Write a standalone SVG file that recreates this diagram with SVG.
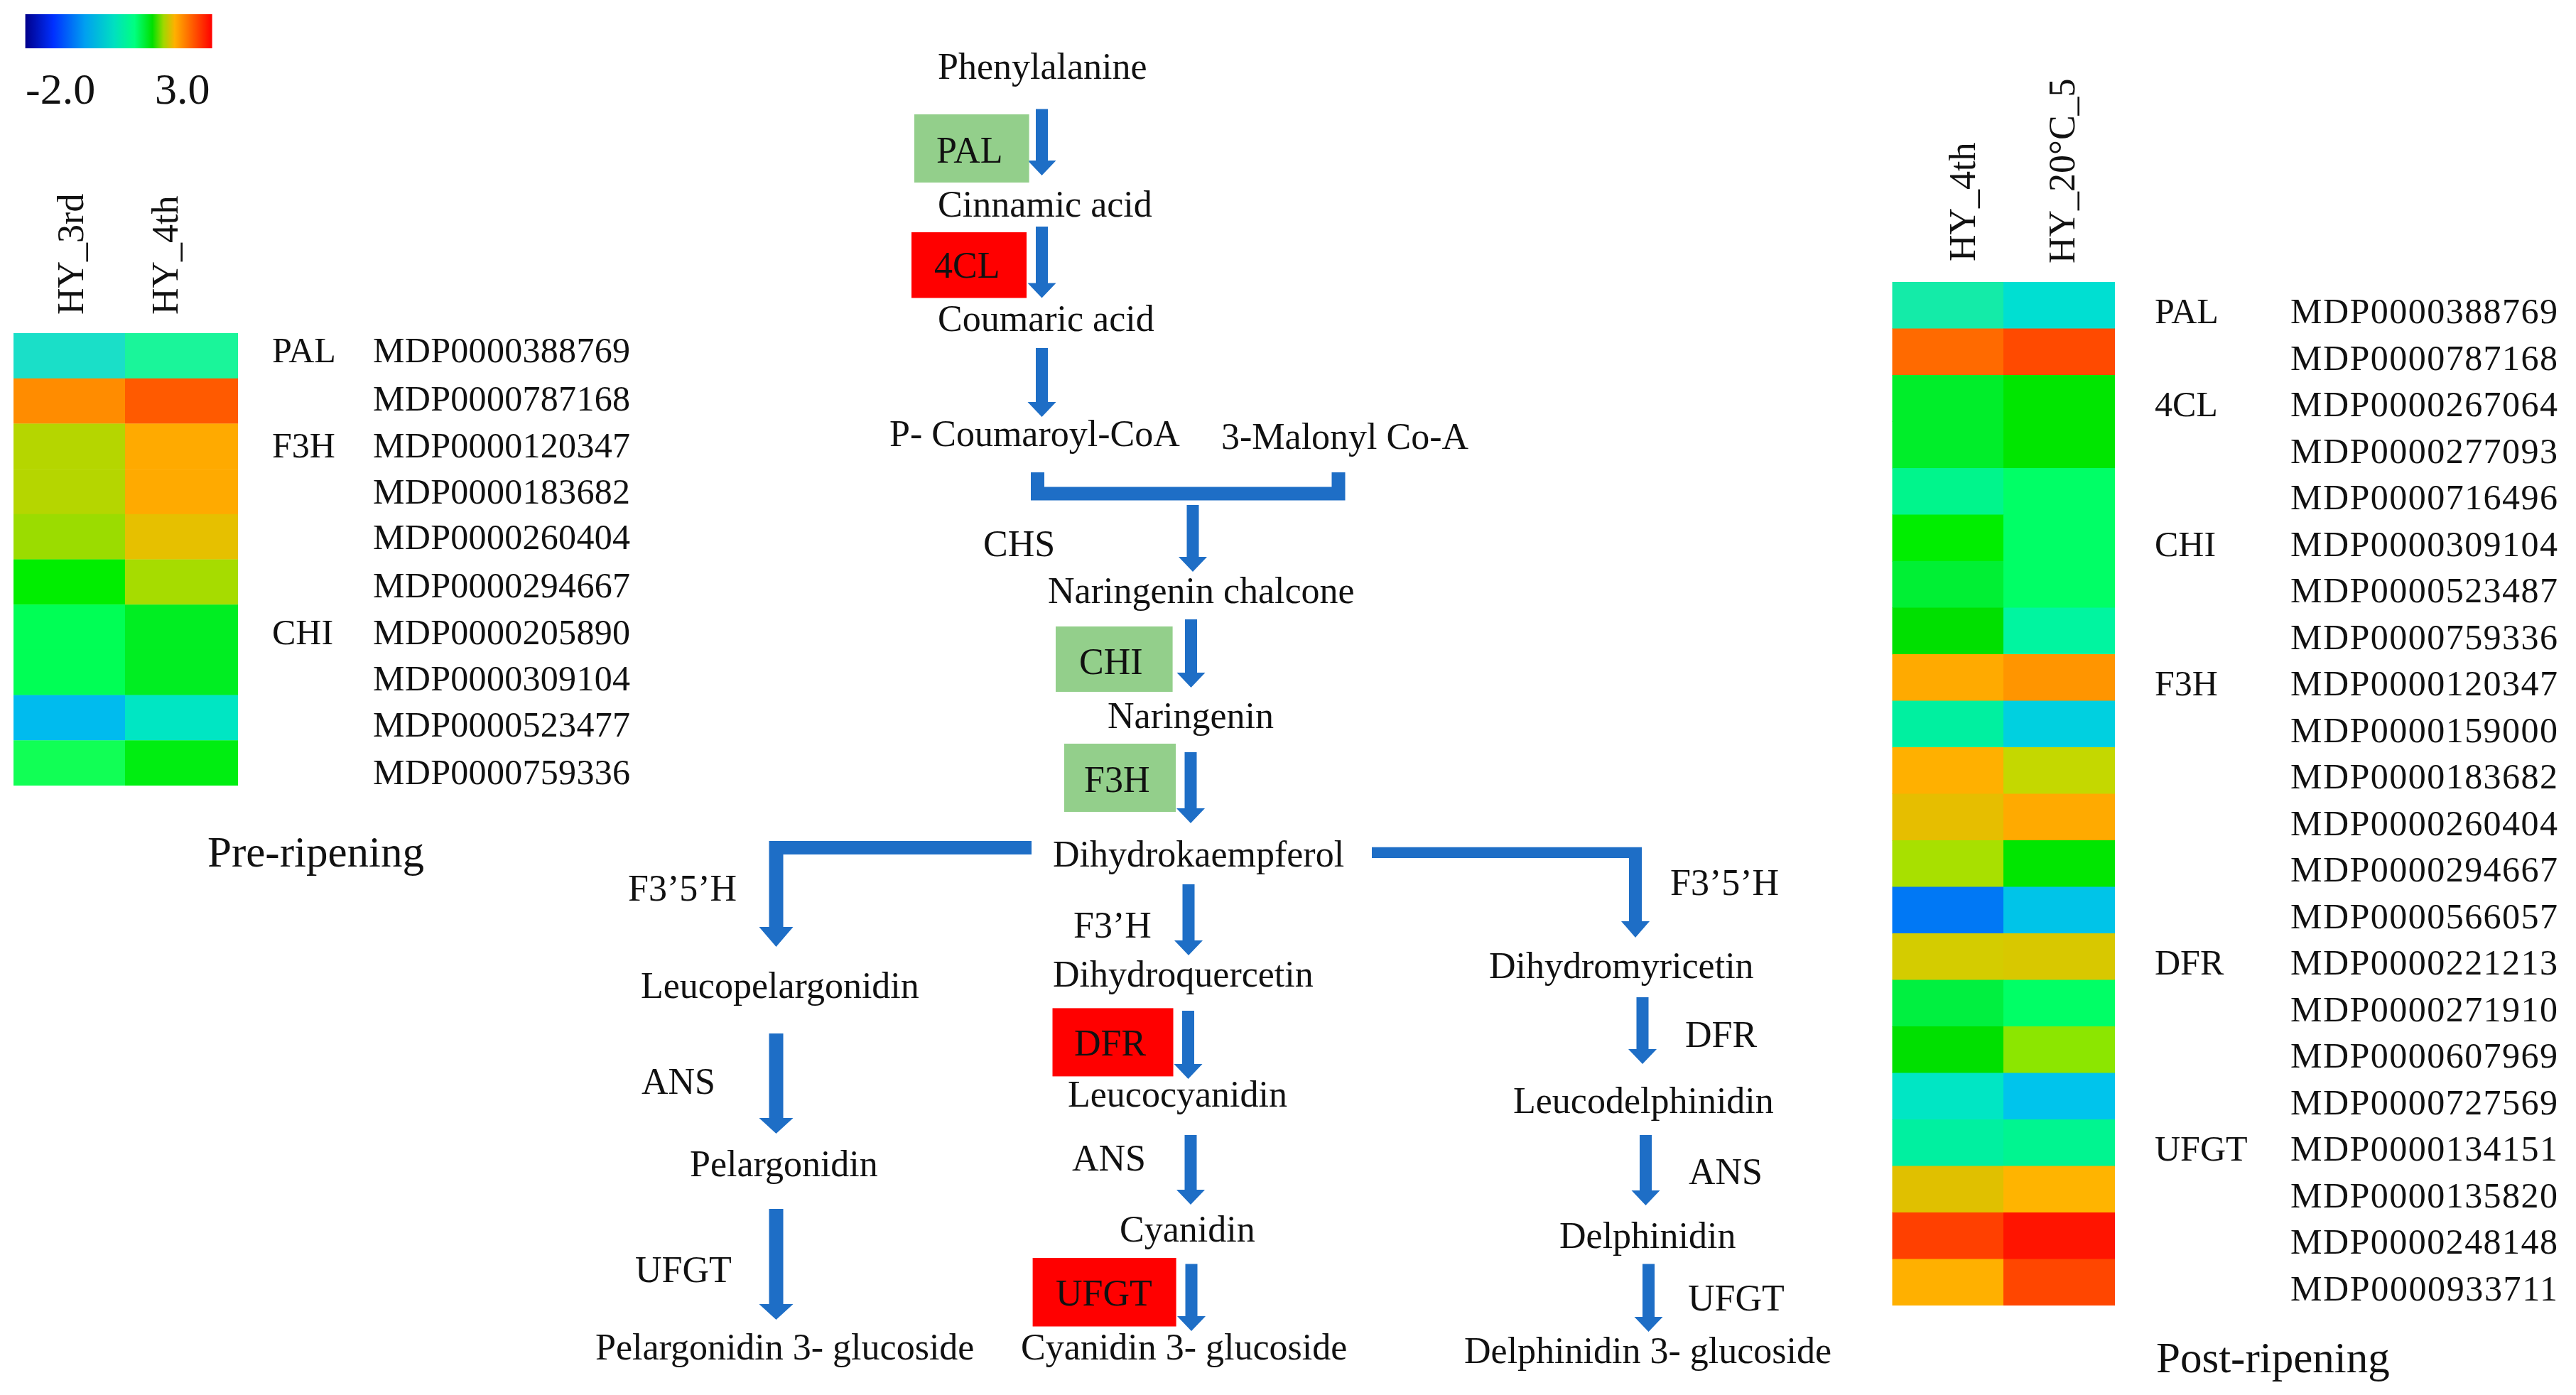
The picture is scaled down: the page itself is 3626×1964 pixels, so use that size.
<svg xmlns="http://www.w3.org/2000/svg" width="3626" height="1964" viewBox="0 0 3626 1964">
<style>
text{font-family:"Liberation Serif","Times New Roman",serif;fill:#111;}
.p{font-size:52px;}
.g{font-size:50px;}
.m{font-size:50px;}
.t{font-size:61px;}
.h{font-size:52px;}
.arr{fill:#1E6EC6;}
.line{fill:none;stroke:#1E6EC6;stroke-width:19;}
.green{fill:#93CF8B;}
.red{fill:#FF0000;}
</style>
<defs>
<linearGradient id="cbar" x1="0" y1="0" x2="1" y2="0">
<stop offset="0" stop-color="#00008B"/>
<stop offset="0.15" stop-color="#0030FF"/>
<stop offset="0.32" stop-color="#00A0F0"/>
<stop offset="0.475" stop-color="#00E0C0"/>
<stop offset="0.585" stop-color="#00FF80"/>
<stop offset="0.68" stop-color="#00E000"/>
<stop offset="0.74" stop-color="#A0D800"/>
<stop offset="0.8" stop-color="#FFB000"/>
<stop offset="0.89" stop-color="#FF6000"/>
<stop offset="1" stop-color="#FF0000"/>
</linearGradient>
</defs>
<rect width="3626" height="1964" fill="#FFFFFF"/>

<g id="legend">
<rect x="35.6" y="20" width="263" height="48" fill="url(#cbar)"/>
<text x="36" y="146" style="font-size:62px">-2.0</text>
<text x="218" y="146" style="font-size:62px">3.0</text>
</g>

<g id="heatmap-pre">
<text class="h" transform="translate(117,443) rotate(-90)">HY_3rd</text>
<text class="h" transform="translate(250,443) rotate(-90)">HY_4th</text>
<g id="pre-cells">
<rect x="19" y="469" width="157" height="64" fill="#1ADFC8"/><rect x="176" y="469" width="159" height="64" fill="#1AF59A"/>
<rect x="19" y="532.7" width="157" height="64" fill="#FF8C00"/><rect x="176" y="532.7" width="159" height="64" fill="#FF5A00"/>
<rect x="19" y="596.4" width="157" height="64" fill="#B5D600"/><rect x="176" y="596.4" width="159" height="64" fill="#FFAA00"/>
<rect x="19" y="660.1" width="157" height="64" fill="#B5D600"/><rect x="176" y="660.1" width="159" height="64" fill="#FFAA00"/>
<rect x="19" y="723.8" width="157" height="64" fill="#9BDC00"/><rect x="176" y="723.8" width="159" height="64" fill="#E6C000"/>
<rect x="19" y="787.5" width="157" height="64" fill="#00EE00"/><rect x="176" y="787.5" width="159" height="64" fill="#A6DC00"/>
<rect x="19" y="851.2" width="157" height="64" fill="#00FF55"/><rect x="176" y="851.2" width="159" height="64" fill="#00EE22"/>
<rect x="19" y="914.9" width="157" height="64" fill="#00FF55"/><rect x="176" y="914.9" width="159" height="64" fill="#00EE22"/>
<rect x="19" y="978.6" width="157" height="64" fill="#00BBEE"/><rect x="176" y="978.6" width="159" height="64" fill="#00E6C3"/>
<rect x="19" y="1042.3" width="157" height="63.7" fill="#11FF55"/><rect x="176" y="1042.3" width="159" height="63.7" fill="#00EE11"/>
</g>
<g id="pre-labels">
<text class="g" x="383" y="510">PAL</text>
<text class="g" x="383" y="644">F3H</text>
<text class="g" x="383" y="907">CHI</text>
<text class="m" x="525" y="510" textLength="362">MDP0000388769</text>
<text class="m" x="525" y="578" textLength="362">MDP0000787168</text>
<text class="m" x="525" y="644" textLength="362">MDP0000120347</text>
<text class="m" x="525" y="709" textLength="362">MDP0000183682</text>
<text class="m" x="525" y="773" textLength="362">MDP0000260404</text>
<text class="m" x="525" y="841" textLength="362">MDP0000294667</text>
<text class="m" x="525" y="907" textLength="362">MDP0000205890</text>
<text class="m" x="525" y="972" textLength="362">MDP0000309104</text>
<text class="m" x="525" y="1037" textLength="362">MDP0000523477</text>
<text class="m" x="525" y="1104" textLength="362">MDP0000759336</text>
</g>
<text class="t" x="292" y="1220">Pre-ripening</text>
</g>

<g id="heatmap-post">
<text class="h" transform="translate(2780,368) rotate(-90)">HY_4th</text>
<text class="h" transform="translate(2920,371) rotate(-90)">HY_20°C_5</text>
<g id="post-cells">
<rect x="2663.5" y="397" width="157" height="66" fill="#14EBA8"/><rect x="2820" y="397" width="157" height="66" fill="#00DFD2"/>
<rect x="2663.5" y="462.5" width="157" height="66" fill="#FF6A00"/><rect x="2820" y="462.5" width="157" height="66" fill="#FF4A00"/>
<rect x="2663.5" y="528" width="157" height="66" fill="#00EE2A"/><rect x="2820" y="528" width="157" height="66" fill="#00E600"/>
<rect x="2663.5" y="593.5" width="157" height="66" fill="#00EE2A"/><rect x="2820" y="593.5" width="157" height="66" fill="#00E600"/>
<rect x="2663.5" y="659" width="157" height="66" fill="#00F58C"/><rect x="2820" y="659" width="157" height="66" fill="#00FF66"/>
<rect x="2663.5" y="724.5" width="157" height="66" fill="#00EE00"/><rect x="2820" y="724.5" width="157" height="66" fill="#00FF66"/>
<rect x="2663.5" y="790" width="157" height="66" fill="#00F034"/><rect x="2820" y="790" width="157" height="66" fill="#00FF66"/>
<rect x="2663.5" y="855.5" width="157" height="66" fill="#00E000"/><rect x="2820" y="855.5" width="157" height="66" fill="#00F5A0"/>
<rect x="2663.5" y="921" width="157" height="66" fill="#FFAA00"/><rect x="2820" y="921" width="157" height="66" fill="#FF9500"/>
<rect x="2663.5" y="986.5" width="157" height="66" fill="#00F0A0"/><rect x="2820" y="986.5" width="157" height="66" fill="#00D0E0"/>
<rect x="2663.5" y="1052" width="157" height="66" fill="#FFB000"/><rect x="2820" y="1052" width="157" height="66" fill="#C4D800"/>
<rect x="2663.5" y="1117.5" width="157" height="66" fill="#E6BE00"/><rect x="2820" y="1117.5" width="157" height="66" fill="#FFAA00"/>
<rect x="2663.5" y="1183" width="157" height="66" fill="#A8E000"/><rect x="2820" y="1183" width="157" height="66" fill="#00E600"/>
<rect x="2663.5" y="1248.5" width="157" height="66" fill="#0078F5"/><rect x="2820" y="1248.5" width="157" height="66" fill="#00C4E8"/>
<rect x="2663.5" y="1314" width="157" height="66" fill="#D4CC00"/><rect x="2820" y="1314" width="157" height="66" fill="#D8C800"/>
<rect x="2663.5" y="1379.5" width="157" height="66" fill="#00F040"/><rect x="2820" y="1379.5" width="157" height="66" fill="#00FF66"/>
<rect x="2663.5" y="1445" width="157" height="66" fill="#00E000"/><rect x="2820" y="1445" width="157" height="66" fill="#8CE600"/>
<rect x="2663.5" y="1510.5" width="157" height="66" fill="#00E6C4"/><rect x="2820" y="1510.5" width="157" height="66" fill="#00C4EC"/>
<rect x="2663.5" y="1576" width="157" height="66" fill="#00F0A0"/><rect x="2820" y="1576" width="157" height="66" fill="#00F590"/>
<rect x="2663.5" y="1641.5" width="157" height="66" fill="#E0C000"/><rect x="2820" y="1641.5" width="157" height="66" fill="#FFB400"/>
<rect x="2663.5" y="1707" width="157" height="66" fill="#FF4000"/><rect x="2820" y="1707" width="157" height="66" fill="#FF1400"/>
<rect x="2663.5" y="1772.5" width="157" height="65.5" fill="#FFB000"/><rect x="2820" y="1772.5" width="157" height="65.5" fill="#FF4600"/>
</g>
<g id="post-labels">
<text class="g" x="3033" y="455">PAL</text>
<text class="g" x="3033" y="586">4CL</text>
<text class="g" x="3033" y="782.5">CHI</text>
<text class="g" x="3033" y="979">F3H</text>
<text class="g" x="3033" y="1372">DFR</text>
<text class="g" x="3033" y="1634">UFGT</text>
<text class="m" x="3224" y="455" textLength="376">MDP0000388769</text>
<text class="m" x="3224" y="520.5" textLength="376">MDP0000787168</text>
<text class="m" x="3224" y="586" textLength="376">MDP0000267064</text>
<text class="m" x="3224" y="651.5" textLength="376">MDP0000277093</text>
<text class="m" x="3224" y="717" textLength="376">MDP0000716496</text>
<text class="m" x="3224" y="782.5" textLength="376">MDP0000309104</text>
<text class="m" x="3224" y="848" textLength="376">MDP0000523487</text>
<text class="m" x="3224" y="913.5" textLength="376">MDP0000759336</text>
<text class="m" x="3224" y="979" textLength="376">MDP0000120347</text>
<text class="m" x="3224" y="1044.5" textLength="376">MDP0000159000</text>
<text class="m" x="3224" y="1110" textLength="376">MDP0000183682</text>
<text class="m" x="3224" y="1175.5" textLength="376">MDP0000260404</text>
<text class="m" x="3224" y="1241" textLength="376">MDP0000294667</text>
<text class="m" x="3224" y="1306.5" textLength="376">MDP0000566057</text>
<text class="m" x="3224" y="1372" textLength="376">MDP0000221213</text>
<text class="m" x="3224" y="1437.5" textLength="376">MDP0000271910</text>
<text class="m" x="3224" y="1503" textLength="376">MDP0000607969</text>
<text class="m" x="3224" y="1568.5" textLength="376">MDP0000727569</text>
<text class="m" x="3224" y="1634" textLength="376">MDP0000134151</text>
<text class="m" x="3224" y="1699.5" textLength="376">MDP0000135820</text>
<text class="m" x="3224" y="1765" textLength="376">MDP0000248148</text>
<text class="m" x="3224" y="1830.5" textLength="376">MDP0000933711</text>
</g>
<text class="t" x="3035" y="1932">Post-ripening</text>
</g>

<g id="connectors">
<path class="arr" d="M1458 153.5 H1475 V226 H1486.5 L1466.5 247 L1446.5 226 H1458 Z"/>
<path class="arr" d="M1458 319 H1475 V398.5 H1486.5 L1466.5 419.5 L1446.5 398.5 H1458 Z"/>
<path class="arr" d="M1458 490 H1475 V566 H1486.5 L1466.5 587 L1446.5 566 H1458 Z"/>
<path class="line" d="M1460.5 665 V695 H1884 V665"/>
<path class="arr" d="M1670.5 711 H1687.5 V784 H1699 L1679 805 L1659 784 H1670.5 Z"/>
<path class="arr" d="M1668 872 H1685 V947 H1696.5 L1676.5 968 L1656.5 947 H1668 Z"/>
<path class="arr" d="M1667.5 1059 H1684.5 V1138 H1696 L1676 1159 L1656 1138 H1667.5 Z"/>
<path class="arr" d="M1082.5 1184 H1452 V1203 H1102.5 V1305 H1116.5 L1092.5 1333 L1068.5 1305 H1082.5 Z"/>
<path class="arr" d="M1931 1192.7 H2311 V1297 H2322 L2302 1320 L2282 1297 H2293 V1208 H1931 Z"/>
<path class="arr" d="M1664.5 1245 H1681.5 V1324 H1693 L1673 1345 L1653 1324 H1664.5 Z"/>
<path class="arr" d="M1664 1423 H1681 V1498 H1692.5 L1672.5 1519 L1652.5 1498 H1664 Z"/>
<path class="arr" d="M1667.5 1598 H1684.5 V1675 H1696 L1676 1696 L1656 1675 H1667.5 Z"/>
<path class="arr" d="M1668.5 1779.5 H1685.5 V1853 H1697 L1677 1874 L1657 1853 H1668.5 Z"/>
<path class="arr" d="M1082.5 1455 H1102.5 V1574 H1116.5 L1092.5 1596 L1068.5 1574 H1082.5 Z"/>
<path class="arr" d="M1082.5 1702 H1102.5 V1836 H1116.5 L1092.5 1858 L1068.5 1836 H1082.5 Z"/>
<path class="arr" d="M2303.5 1404 H2320.5 V1477 H2332 L2312 1498 L2292 1477 H2303.5 Z"/>
<path class="arr" d="M2308 1598 H2325 V1676 H2336.5 L2316.5 1697 L2296.5 1676 H2308 Z"/>
<path class="arr" d="M2312 1779.5 H2329 V1854 H2340.5 L2320.5 1875 L2300.5 1854 H2312 Z"/>
</g>

<g id="enzyme-PAL"><rect class="green" x="1287" y="161" width="161.6" height="96"/><text class="p" x="1318" y="229">PAL</text></g>
<g id="enzyme-4CL"><rect class="red" x="1283" y="327" width="162" height="92.5"/><text class="p" x="1315" y="391">4CL</text></g>
<g id="enzyme-CHI"><rect class="green" x="1486" y="882" width="164.6" height="92"/><text class="p" x="1519" y="949">CHI</text></g>
<g id="enzyme-F3H"><rect class="green" x="1498" y="1047" width="157" height="96"/><text class="p" x="1526" y="1115">F3H</text></g>
<g id="enzyme-DFR"><rect class="red" x="1481.5" y="1419.4" width="170" height="96"/><text class="p" x="1512" y="1486">DFR</text></g>
<g id="enzyme-UFGT"><rect class="red" x="1453.6" y="1771" width="202" height="96.5"/><text class="p" x="1486" y="1838">UFGT</text></g>

<g id="n-phenylalanine"><text class="p" x="1320" y="111">Phenylalanine</text></g>
<g id="n-cinnamic"><text class="p" x="1320" y="305">Cinnamic acid</text></g>
<g id="n-coumaric"><text class="p" x="1320" y="466">Coumaric acid</text></g>
<g id="n-coumaroylcoa"><text class="p" x="1252" y="628">P- Coumaroyl-CoA</text></g>
<g id="n-malonylcoa"><text class="p" x="1719" y="632">3-Malonyl Co-A</text></g>
<g id="l-CHS"><text class="p" x="1384" y="783">CHS</text></g>
<g id="n-chalcone"><text class="p" x="1475" y="849">Naringenin chalcone</text></g>
<g id="n-naringenin"><text class="p" x="1559" y="1025">Naringenin</text></g>
<g id="n-dihydrokaempferol"><text class="p" x="1482" y="1220">Dihydrokaempferol</text></g>
<g id="l-F35H-left"><text class="p" x="884" y="1268">F3’5’H</text></g>
<g id="l-F35H-right"><text class="p" x="2351" y="1260">F3’5’H</text></g>
<g id="l-F3H-prime"><text class="p" x="1511" y="1320">F3’H</text></g>
<g id="n-leucopelargonidin"><text class="p" x="902" y="1405">Leucopelargonidin</text></g>
<g id="n-dihydroquercetin"><text class="p" x="1482" y="1389">Dihydroquercetin</text></g>
<g id="n-dihydromyricetin"><text class="p" x="2096" y="1377">Dihydromyricetin</text></g>
<g id="l-ANS-left"><text class="p" x="903" y="1540">ANS</text></g>
<g id="n-pelargonidin"><text class="p" x="971" y="1656">Pelargonidin</text></g>
<g id="l-UFGT-left"><text class="p" x="894" y="1805">UFGT</text></g>
<g id="n-pelargonidin3g"><text class="p" x="838" y="1914">Pelargonidin 3- glucoside</text></g>
<g id="n-leucocyanidin"><text class="p" x="1503" y="1558">Leucocyanidin</text></g>
<g id="l-ANS-center"><text class="p" x="1509" y="1648">ANS</text></g>
<g id="n-cyanidin"><text class="p" x="1576" y="1748">Cyanidin</text></g>
<g id="n-cyanidin3g"><text class="p" x="1437" y="1914">Cyanidin 3- glucoside</text></g>
<g id="l-DFR-right"><text class="p" x="2372" y="1474">DFR</text></g>
<g id="n-leucodelphinidin"><text class="p" x="2130" y="1567">Leucodelphinidin</text></g>
<g id="l-ANS-right"><text class="p" x="2377" y="1667">ANS</text></g>
<g id="n-delphinidin"><text class="p" x="2195" y="1757">Delphinidin</text></g>
<g id="l-UFGT-right"><text class="p" x="2376" y="1845">UFGT</text></g>
<g id="n-delphinidin3g"><text class="p" x="2061" y="1919">Delphinidin 3- glucoside</text></g>
</svg>
